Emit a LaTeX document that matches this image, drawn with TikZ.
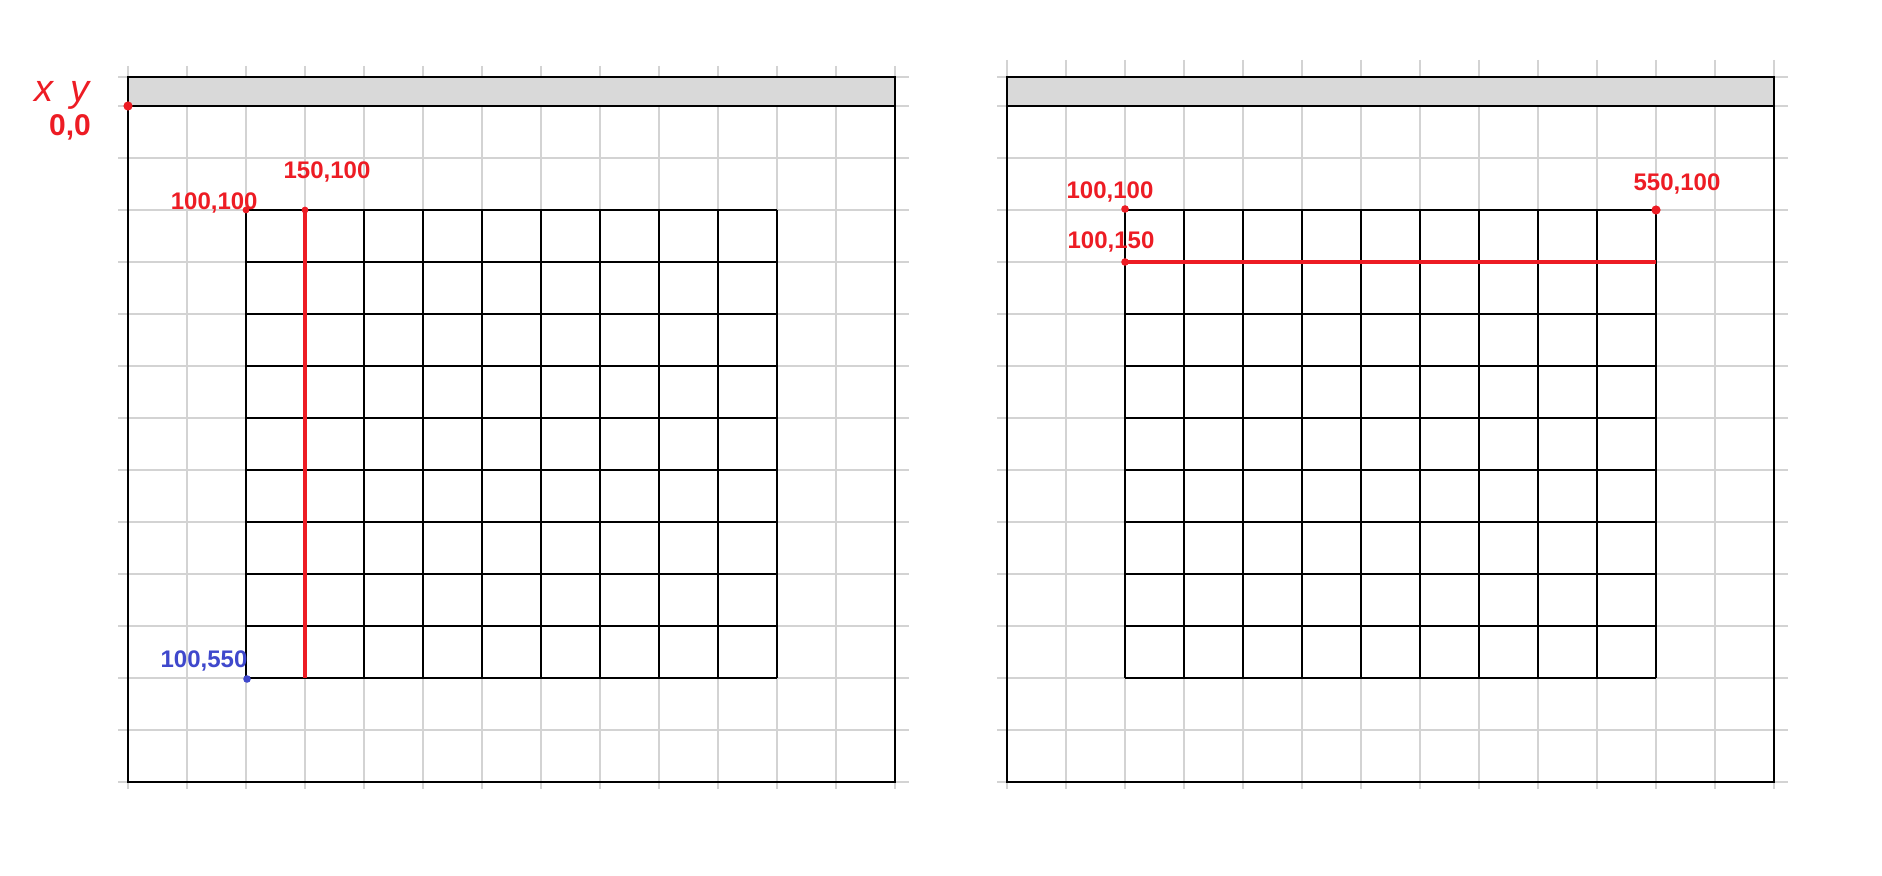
\documentclass[tikz,border=0pt]{standalone}
\usepackage{fontspec}
\setmainfont{Liberation Sans}
\usetikzlibrary{positioning}
\definecolor{guidegray}{RGB}{211, 211, 211}
\definecolor{barfill}{RGB}{217, 217, 217}
\definecolor{marker}{RGB}{237, 28, 36}
\definecolor{pen}{RGB}{63, 72, 204}
\tikzset{
    guide/.style={draw=guidegray, line width=0.55pt},
    frame/.style={draw=black, line width=0.8pt},
    cellgrid/.style={draw=black, line width=0.55pt},
    redline/.style={draw=marker, line width=1.8pt},
    dot/.style={circle, fill=#1, inner sep=0pt, minimum size=4.6pt},
    note/.style={text=#1, font=\fontsize{12}{14}\selectfont\bfseries, inner sep=0pt}
}
\begin{document}
\begin{tikzpicture}[x=0.5pt, y=-0.5pt]
    \useasboundingbox (0,0) rectangle (1882,876);
    % two panels, same layout
    \foreach \ox/\oy/\top in {128/106/-40, 1007/106/-46} {
        \begin{scope}[shift={(\ox,\oy)}]
            \foreach \yy in {-29,0,52,...,676} \draw[guide] (-10,\yy) -- (781,\yy);
            \foreach \k in {0,...,13} \draw[guide] (59*\k,\top) -- (59*\k,683);
            \filldraw[frame, fill=barfill] (0,-29) rectangle (767,0);
            \draw[frame] (0,-29) rectangle (767,676);
            \foreach \i in {0,...,9} {
                \draw[cellgrid] (118+59*\i,104) -- (118+59*\i,572);
                \draw[cellgrid] (118,104+52*\i) -- (649,104+52*\i);
            }
        \end{scope}
    }
    % left panel marks
    \coordinate (origin) at (128,106);
    \coordinate (gridtl) at (246,210);
    \coordinate (linetop) at (305,210);
    \coordinate (linebot) at (305,678);
    \coordinate (gridbl) at (247,679);
    \draw[redline] (linetop) -- (linebot);
    \node[dot=marker] (origindot) at (origin) {};
    \node[dot=marker, minimum size=3.4pt] (tldot) at (gridtl) {};
    \node[dot=marker, minimum size=3.4pt] (topdot) at (linetop) {};
    \node[dot=pen, minimum size=3.8pt] (bldot) at (gridbl) {};
    \node[note=marker, font=\fontsize{19}{22}\selectfont\itshape] (xy) at (62,95) {x\hspace{9pt}y};
    \node[note=marker, font=\fontsize{15}{18}\selectfont\bfseries] (zero) at (70,127) {0,0};
    \node[note=marker, anchor=south east] (tllabel) at (258,214) {100,100};
    \node[note=marker] (toplabel) at (327,172) {150,100};
    \node[note=pen] (bllabel) at (204,661) {100,550};
    % right panel marks
    \coordinate (rtl) at (1125,209);
    \coordinate (rstart) at (1125,262);
    \coordinate (rend) at (1656,262);
    \coordinate (rtr) at (1656,210);
    \draw[redline] (rstart) -- (rend);
    \node[dot=marker, minimum size=3.8pt] (rtldot) at (rtl) {};
    \node[dot=marker, minimum size=3.8pt] (rstartdot) at (rstart) {};
    \node[dot=marker] (rtrdot) at (rtr) {};
    \node[note=marker] (rtllabel) at (1110,192) {100,100};
    \node[note=marker] (rstartlabel) at (1111,242) {100,150};
    \node[note=marker] (rtrlabel) at (1677,184) {550,100};
\end{tikzpicture}
\end{document}
